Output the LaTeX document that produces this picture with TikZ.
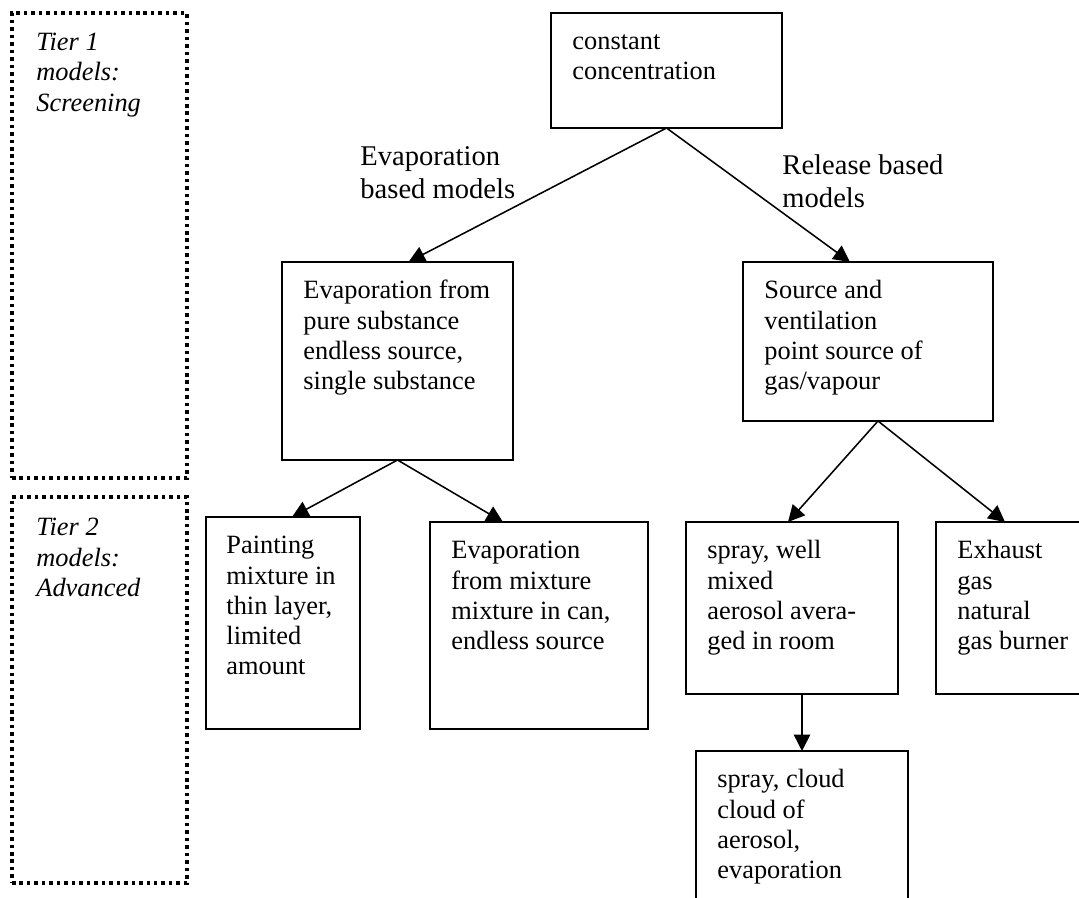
\documentclass[tikz,border=0pt]{standalone}
\usepackage{fontspec}
\setmainfont{Liberation Serif}
\usepackage{tikz}
\usetikzlibrary{arrows.meta,fit}
\tikzset{
  doboz/.style={draw,line width=0.7pt,inner sep=0pt,outer sep=0pt},
  szint/.style={draw,line width=1.6pt,dash pattern=on 1.6pt off 1.8pt,inner sep=0pt,outer sep=0pt},
  szoveg/.style={anchor=north west,inner sep=0pt,align=left,font=\fontsize{12}{13.8}\selectfont},
  dolt/.style={szoveg,font=\fontsize{12}{13.8}\selectfont\itshape},
  agnev/.style={anchor=north west,inner sep=0pt,align=left,font=\fontsize{13}{15}\selectfont},
  nyil/.style={-{Triangle[length=7.5pt,width=7.5pt]},line width=0.7pt},
}
\begin{document}
\begin{tikzpicture}[x=0.455pt,y=-0.455pt]
  \useasboundingbox (0,0) rectangle (1079,897);
  \clip (0,0) rectangle (1079,897);
  % tiers
  \node[szint,fit={(12,13) (187,478)}] (t1) {};
  \node[szint,fit={(12,497) (187,883)}] (t2) {};
  \node[dolt] (t1t) at ([shift={(24,16)}]t1.north west) {\strut Tier 1\\models:\\Screening};
  \node[dolt] (t2t) at ([shift={(24,17)}]t2.north west) {\strut Tier 2\\models:\\Advanced};
  % boxes
  \node[doboz,fit={(551,13) (782,128)}] (cc) {};
  \node[doboz,fit={(282,262) (513,460)}] (ep) {};
  \node[doboz,fit={(743,262) (993,421)}] (sv) {};
  \node[doboz,fit={(206,517) (360,729)}] (pm) {};
  \node[doboz,fit={(430,522) (648,729)}] (em) {};
  \node[doboz,fit={(686,522) (898,694)}] (sw) {};
  \node[doboz,fit={(936,522) (1160,694)}] (ex) {};
  \node[doboz,fit={(696,751) (908,960)}] (sc) {};
  \node[szoveg] (cct) at ([shift={(21,15)}]cc.north west) {\strut constant\\concentration};
  \node[szoveg] (ept) at ([shift={(21,15)}]ep.north west) {\strut Evaporation from\\pure substance\\endless source,\\single substance};
  \node[szoveg] (svt) at ([shift={(21,15)}]sv.north west) {\strut Source and\\ventilation\\point source of\\gas/vapour};
  \node[szoveg] (pmt) at ([shift={(20,15)}]pm.north west) {\strut Painting\\mixture in\\thin layer,\\limited\\amount};
  \node[szoveg] (emt) at ([shift={(21,15)}]em.north west) {\strut Evaporation\\from mixture\\mixture in can,\\endless source};
  \node[szoveg] (swt) at ([shift={(21,15)}]sw.north west) {\strut spray, well\\mixed\\aerosol avera-\\ged in room};
  \node[szoveg] (ext) at ([shift={(21,15)}]ex.north west) {\strut Exhaust\\gas\\natural\\gas burner};
  \node[szoveg] (sct) at ([shift={(21,15)}]sc.north west) {\strut spray, cloud\\cloud of\\aerosol,\\evaporation};
  % branch labels
  \node[agnev] (evl) at (360,142) {\strut Evaporation\\based models};
  \node[agnev] (rel) at (782,151) {\strut Release based\\models};
  % arrows
  \draw[nyil] (cc.south) -- ([shift={(11,0)}]ep.north);
  \draw[nyil] (cc.south) -- ([shift={(-18,0)}]sv.north);
  \draw[nyil] (ep.south) -- ([shift={(9,0)}]pm.north);
  \draw[nyil] (ep.south) -- ([shift={(-36,0)}]em.north);
  \draw[nyil] ([shift={(10,0)}]sv.south) -- ([shift={(-4,0)}]sw.north);
  \draw[nyil] ([shift={(10,0)}]sv.south) -- ([shift={(69,0)}]ex.north west);
  \draw[nyil] (sw.south -| sc.north) -- (sc.north);
\end{tikzpicture}
\end{document}
